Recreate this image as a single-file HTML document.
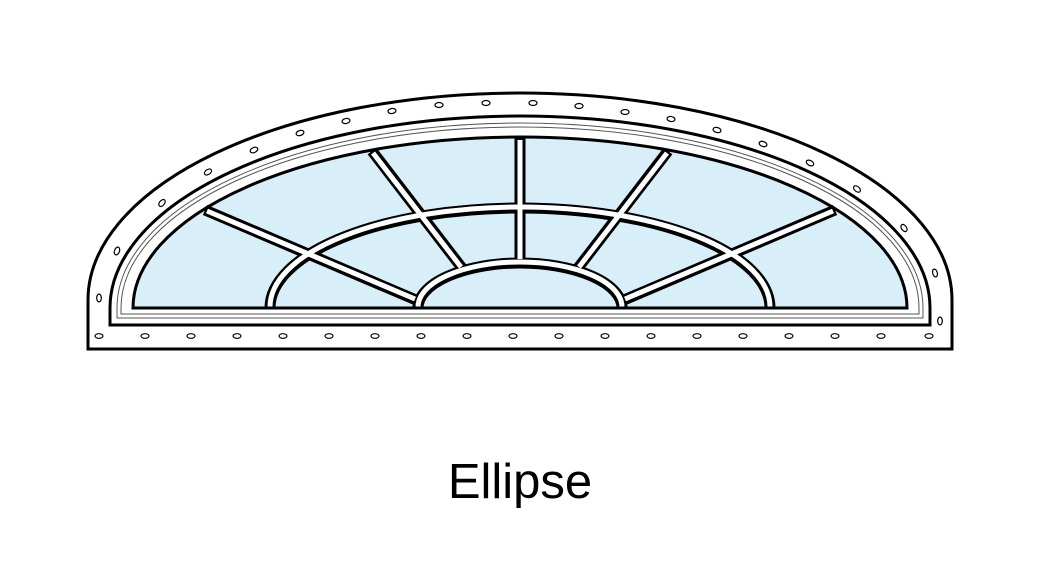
<!DOCTYPE html>
<html><head><style>body{margin:0;background:#fff}svg{display:block}</style></head><body>
<svg width="1041" height="588" viewBox="0 0 1041 588" xmlns="http://www.w3.org/2000/svg">
<path d="M88,349 L88,300 A432,207 0 0 1 952,300 L952,349 Z" fill="#fff" stroke="#000" stroke-width="3"/>
<path d="M110,325 L110,308 A410,192 0 0 1 930,308 L930,325 Z" fill="#fff" stroke="#000" stroke-width="3"/>
<path d="M117,318 L117,308 A403,185 0 0 1 923,308 L923,318 Z" fill="none" stroke="#555" stroke-width="1"/>
<path d="M121,314 L121,308 A399,181 0 0 1 919,308 L919,314 Z" fill="none" stroke="#555" stroke-width="1"/>
<path d="M133,308 A387,171 0 0 1 907,308 Z" fill="#d8eef8" stroke="#000" stroke-width="3"/>
<g fill="none" stroke="#000" stroke-width="11" stroke-linecap="butt">
<line x1="520" y1="138" x2="520" y2="261"/>
<line x1="372" y1="151" x2="462" y2="268"/>
<line x1="668" y1="151" x2="578" y2="268"/>
<line x1="205" y1="210" x2="416" y2="300"/>
<line x1="835" y1="210" x2="624" y2="300"/>
<path d="M270,308 A250,100 0 0 1 770,308"/>
<path d="M418,308 A102,45 0 0 1 622,308"/>
</g>
<g fill="none" stroke="#fff" stroke-width="5">
<line x1="520" y1="140" x2="520" y2="259"/>
<line x1="373" y1="153" x2="461" y2="267"/>
<line x1="667" y1="153" x2="579" y2="267"/>
<line x1="207" y1="211" x2="415" y2="299"/>
<line x1="833" y1="211" x2="625" y2="299"/>
<path d="M270,307 A250,100 0 0 1 770,307"/>
<path d="M418,307 A102,45 0 0 1 622,307"/>
</g>
<line x1="133" y1="308" x2="907" y2="308" stroke="#000" stroke-width="3"/>
<g fill="#fff" stroke="#000" stroke-width="1.2">
<ellipse cx="99" cy="336" rx="4" ry="2.3"/><ellipse cx="145" cy="336" rx="4" ry="2.3"/><ellipse cx="191" cy="336" rx="4" ry="2.3"/><ellipse cx="237" cy="336" rx="4" ry="2.3"/><ellipse cx="283" cy="336" rx="4" ry="2.3"/><ellipse cx="329" cy="336" rx="4" ry="2.3"/><ellipse cx="375" cy="336" rx="4" ry="2.3"/><ellipse cx="421" cy="336" rx="4" ry="2.3"/><ellipse cx="467" cy="336" rx="4" ry="2.3"/><ellipse cx="513" cy="336" rx="4" ry="2.3"/><ellipse cx="559" cy="336" rx="4" ry="2.3"/><ellipse cx="605" cy="336" rx="4" ry="2.3"/><ellipse cx="651" cy="336" rx="4" ry="2.3"/><ellipse cx="697" cy="336" rx="4" ry="2.3"/><ellipse cx="743" cy="336" rx="4" ry="2.3"/><ellipse cx="789" cy="336" rx="4" ry="2.3"/><ellipse cx="835" cy="336" rx="4" ry="2.3"/><ellipse cx="881" cy="336" rx="4" ry="2.3"/><ellipse cx="929" cy="336" rx="4" ry="2.3"/>
<ellipse cx="99" cy="298" rx="2.3" ry="4"/><ellipse cx="940" cy="321" rx="2.3" ry="4"/>
<ellipse cx="117" cy="251" rx="2.5" ry="4" transform="rotate(20 117 251)"/>
<ellipse cx="162" cy="203" rx="2.5" ry="4" transform="rotate(40 162 203)"/>
<ellipse cx="208" cy="172" rx="2.5" ry="4" transform="rotate(55 208 172)"/>
<ellipse cx="254" cy="150" rx="4" ry="2.5" transform="rotate(-25 254 150)"/>
<ellipse cx="300" cy="133" rx="4" ry="2.5" transform="rotate(-18 300 133)"/>
<ellipse cx="346" cy="121" rx="4" ry="2.5" transform="rotate(-12 346 121)"/>
<ellipse cx="392" cy="111" rx="4" ry="2.5" transform="rotate(-8 392 111)"/>
<ellipse cx="439" cy="105" rx="4" ry="2.5"/><ellipse cx="486" cy="103" rx="4" ry="2.5"/><ellipse cx="533" cy="103" rx="4" ry="2.5"/><ellipse cx="579" cy="106" rx="4" ry="2.5"/><ellipse cx="625" cy="112" rx="4" ry="2.5"/>
<ellipse cx="671" cy="119" rx="4" ry="2.5" transform="rotate(10 671 119)"/>
<ellipse cx="717" cy="130" rx="4" ry="2.5" transform="rotate(14 717 130)"/>
<ellipse cx="763" cy="144" rx="4" ry="2.5" transform="rotate(20 763 144)"/>
<ellipse cx="810" cy="163" rx="4" ry="2.5" transform="rotate(28 810 163)"/>
<ellipse cx="857" cy="189" rx="2.5" ry="4" transform="rotate(-50 857 189)"/>
<ellipse cx="904" cy="228" rx="2.5" ry="4" transform="rotate(-35 904 228)"/>
<ellipse cx="935" cy="273" rx="2.3" ry="4" transform="rotate(-15 935 273)"/>
</g>
<text x="520" y="498" text-anchor="middle" font-family="Liberation Sans, sans-serif" font-size="49">Ellipse</text>
</svg>
</body></html>
